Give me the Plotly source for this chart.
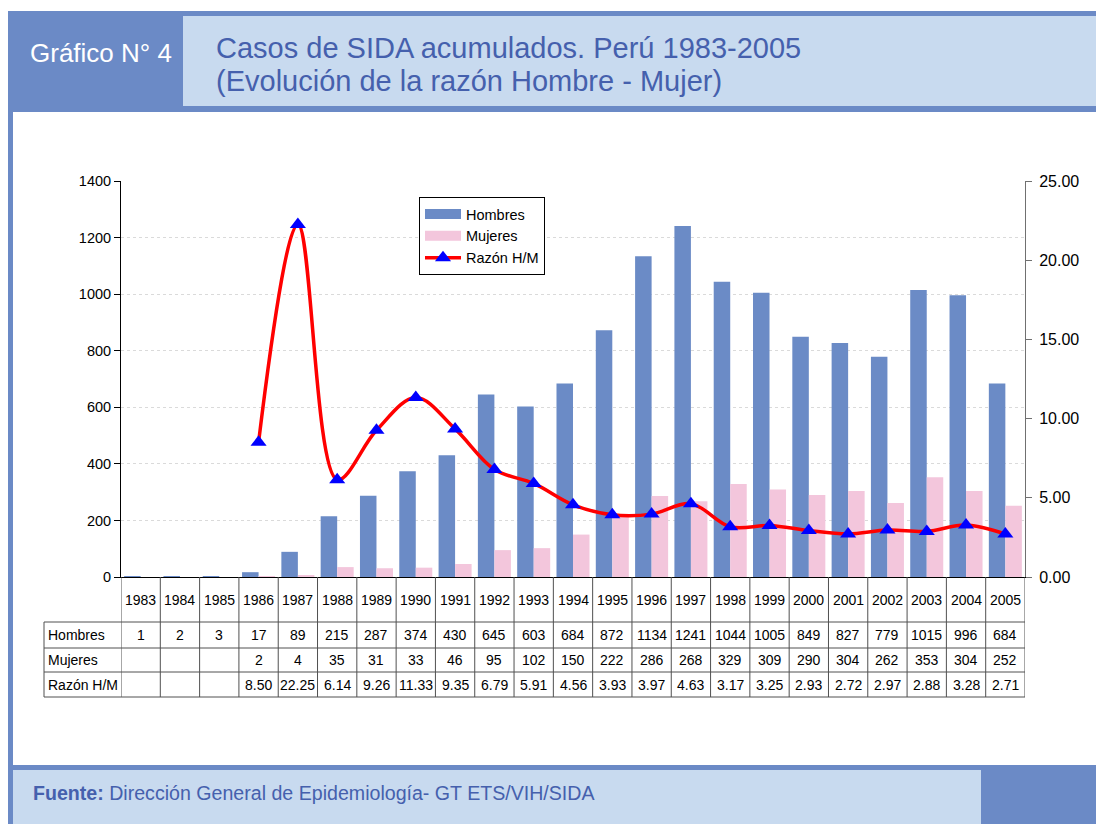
import plotly.graph_objects as go

years = [str(y) for y in range(1983, 2006)]
hombres = [1, 2, 3, 17, 89, 215, 287, 374, 430, 645, 603, 684, 872, 1134, 1241, 1044, 1005, 849, 827, 779, 1015, 996, 684]
mujeres = [None, None, None, 2, 4, 35, 31, 33, 46, 95, 102, 150, 222, 286, 268, 329, 309, 290, 304, 262, 353, 304, 252]
razon = [None, None, None, 8.50, 22.25, 6.14, 9.26, 11.33, 9.35, 6.79, 5.91, 4.56, 3.93, 3.97, 4.63, 3.17, 3.25, 2.93, 2.72, 2.97, 2.88, 3.28, 2.71]

W, H = 1096, 824
L, R, T, B = 121, 1025, 181, 577
FONT = "Arial, Liberation Sans, sans-serif"
DARK = "#6B8AC6"
LIGHT = "#C8DAEF"
TXT = "#4560AD"
C_H = "#6B8BC6"
C_M = "#F3C6DC"


def px(x):
    return (x - L) / (R - L)


def py(y):
    return (B - y) / (B - T)


fig = go.Figure()
fig.add_trace(go.Bar(x=years, y=hombres, name="Hombres", showlegend=False, marker=dict(color=C_H, line=dict(width=0))))
fig.add_trace(go.Bar(x=years, y=mujeres, name="Mujeres", showlegend=False, marker=dict(color=C_M, line=dict(width=0))))
# legend keys drawn like the original wide rectangles
fig.add_trace(go.Scatter(x=[None], y=[None], name="Hombres", mode="lines", line=dict(color=C_H, width=10)))
fig.add_trace(go.Scatter(x=[None], y=[None], name="Mujeres", mode="lines", line=dict(color=C_M, width=10)))
fig.add_trace(go.Scatter(x=years, y=razon, name="Razón H/M", yaxis="y2", mode="lines+markers",
                         line=dict(color="#FF0000", width=3.5, shape="spline", smoothing=1.0),
                         marker=dict(symbol="triangle-up", size=14, color="#0000FF"),
                         connectgaps=False))

shapes = []
# frame
shapes.append(dict(type="rect", xref="paper", yref="paper", x0=px(8), x1=px(1096), y0=py(11), y1=py(112),
                   fillcolor=DARK, line=dict(width=0), layer="below"))
shapes.append(dict(type="rect", xref="paper", yref="paper", x0=px(183), x1=px(1096), y0=py(16), y1=py(106),
                   fillcolor=LIGHT, line=dict(width=0), layer="below"))
shapes.append(dict(type="rect", xref="paper", yref="paper", x0=px(8), x1=px(13), y0=py(11), y1=py(824),
                   fillcolor=DARK, line=dict(width=0), layer="below"))
shapes.append(dict(type="rect", xref="paper", yref="paper", x0=px(8), x1=px(1096), y0=py(765), y1=py(770),
                   fillcolor=DARK, line=dict(width=0), layer="below"))
shapes.append(dict(type="rect", xref="paper", yref="paper", x0=px(13), x1=px(981), y0=py(770), y1=py(824),
                   fillcolor=LIGHT, line=dict(width=0), layer="below"))
shapes.append(dict(type="rect", xref="paper", yref="paper", x0=px(981), x1=px(1096), y0=py(770), y1=py(824),
                   fillcolor=DARK, line=dict(width=0), layer="below"))

# data table grid
TL = "#505050"
row_y = [622, 648, 672, 697]
for i in range(len(years) + 1):
    shapes.append(dict(type="line", xref="x", yref="paper", x0=i - 0.5, x1=i - 0.5, y0=0, y1=py(697),
                       line=dict(color=TL, width=1)))
shapes.append(dict(type="line", xref="paper", yref="paper", x0=px(44), x1=px(44), y0=py(622), y1=py(697),
                   line=dict(color=TL, width=1)))
for yy in row_y:
    shapes.append(dict(type="line", xref="paper", yref="paper", x0=px(44), x1=1, y0=py(yy), y1=py(yy),
                       line=dict(color=TL, width=1)))

annotations = []
TF = dict(family=FONT, size=14, color="#000000")
for i, yr in enumerate(years):
    annotations.append(dict(x=i, xref="x", y=py(599.5), yref="paper", text=yr, showarrow=False, font=TF,
                            xanchor="center", yanchor="middle"))
    annotations.append(dict(x=i, xref="x", y=py(635), yref="paper", text=str(hombres[i]), showarrow=False,
                            font=TF, xanchor="center", yanchor="middle"))
    if mujeres[i] is not None:
        annotations.append(dict(x=i, xref="x", y=py(660), yref="paper", text=str(mujeres[i]), showarrow=False,
                                font=TF, xanchor="center", yanchor="middle"))
    if razon[i] is not None:
        annotations.append(dict(x=i, xref="x", y=py(685), yref="paper", text=f"{razon[i]:.2f}", showarrow=False,
                                font=TF, xanchor="center", yanchor="middle"))
for lab, yc in [("Hombres", 635), ("Mujeres", 660), ("Razón H/M", 685)]:
    annotations.append(dict(x=px(46), xref="paper", y=py(yc), yref="paper", text=lab, showarrow=False, font=TF,
                            xanchor="left", yanchor="middle"))

# header / footer texts
annotations.append(dict(x=px(101), xref="paper", y=py(53), yref="paper", text="Gráfico N° 4", showarrow=False,
                        font=dict(family=FONT, size=26, color="#FFFFFF"), xanchor="center", yanchor="middle"))
annotations.append(dict(x=px(214), xref="paper", y=py(48), yref="paper", text="Casos de SIDA acumulados. Perú 1983-2005",
                        showarrow=False, font=dict(family=FONT, size=29, color=TXT), xanchor="left", yanchor="middle"))
annotations.append(dict(x=px(214), xref="paper", y=py(81), yref="paper", text="(Evolución de la razón Hombre - Mujer)",
                        showarrow=False, font=dict(family=FONT, size=29, color=TXT), xanchor="left", yanchor="middle"))
annotations.append(dict(x=px(31), xref="paper", y=py(793), yref="paper",
                        text="<b>Fuente:</b> Dirección General de Epidemiología- GT ETS/VIH/SIDA",
                        showarrow=False, font=dict(family=FONT, size=19.6, color=TXT), xanchor="left", yanchor="middle"))

fig.update_layout(
    width=W, height=H,
    margin=dict(l=L, r=W - R, t=T, b=H - B, pad=0),
    paper_bgcolor="#FFFFFF", plot_bgcolor="rgba(0,0,0,0)",
    barmode="group", bargap=0.16, bargroupgap=0,
    font=dict(family=FONT, size=14, color="#000000"),
    xaxis=dict(type="category", showticklabels=False, showgrid=False, ticks="", showline=True,
               linecolor="#000000", linewidth=1, range=[-0.5, len(years) - 0.5], zeroline=False),
    yaxis=dict(range=[0, 1400], dtick=200, showgrid=True, gridcolor="#DADADA", griddash="dot", gridwidth=1,
               showline=True, linecolor="#000000", linewidth=1, ticks="outside", ticklen=6, tickcolor="#000000",
               zeroline=False, tickfont=dict(size=14.5)),
    yaxis2=dict(range=[0, 25], dtick=5, tickformat=".2f", overlaying="y", side="right", showgrid=False,
                showline=True, linecolor="#707070", linewidth=1, ticks="outside", ticklen=6, tickcolor="#707070",
                zeroline=False, tickfont=dict(size=16), ticklabelstandoff=4),
    legend=dict(x=px(419), y=py(197), xanchor="left", yanchor="top", bgcolor="#FFFFFF", bordercolor="#000000",
                borderwidth=1, font=dict(size=14.5), tracegroupgap=0, itemwidth=36),
    shapes=shapes, annotations=annotations,
    showlegend=True,
)

fig.write_html("out.html", config={"displayModeBar": False},
               post_script="document.body.style.margin='0px';document.body.style.padding='0px';")
